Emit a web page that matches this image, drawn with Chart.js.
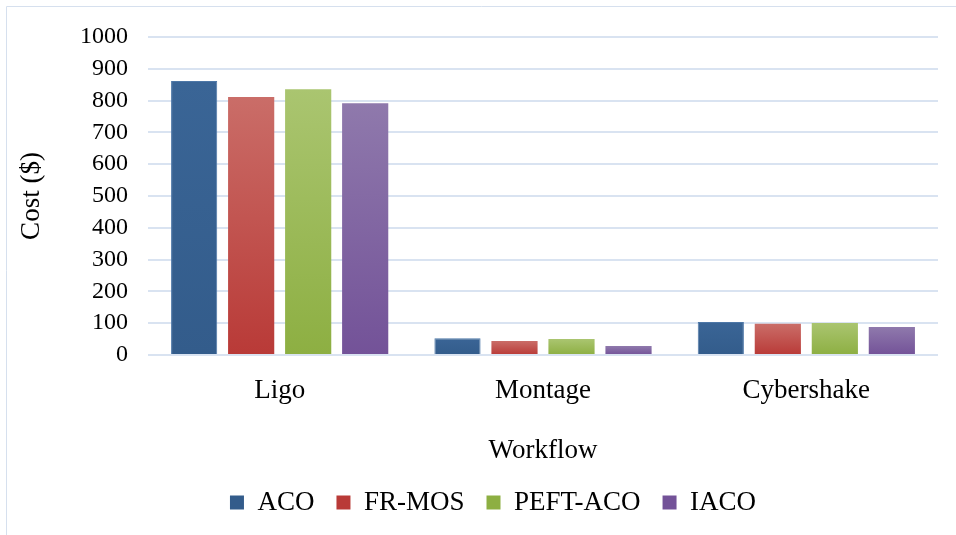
<!DOCTYPE html>
<html>
<head>
<meta charset="utf-8">
<style>
  html, body { margin: 0; padding: 0; background: #ffffff; }
  #wrap { position: relative; width: 956px; height: 535px; }
  canvas { display: block; }
</style>
<script src="https://cdn.jsdelivr.net/npm/chart.js@4"></script>
</head>
<body>
<div id="wrap"><canvas id="chart" width="956" height="535"></canvas></div>
<script>
// Workflow cost per scheduling algorithm
const workflows = ['Ligo', 'Montage', 'Cybershake'];
const seriesNames = ['ACO', 'FR-MOS', 'PEFT-ACO', 'IACO'];
const acoCost    = [862, 53, 104];
const frmosCost  = [811, 44, 98];
const peftCost   = [836, 50, 101];
const iacoCost   = [792, 28, 88];
const yTicks = ['0', '100', '200', '300', '400', '500', '600', '700', '800', '900', '1000'];

// top / bottom shades for each series' vertical gradient
const shades = [
  { top: '#3a6596', bottom: '#335c8b', border: '#4d77a7' },
  { top: '#ca6d68', bottom: '#b93a37', border: null },
  { top: '#aac570', bottom: '#8daf42', border: null },
  { top: '#8f79ac', bottom: '#735298', border: null }
];

const FONT = '"Liberation Serif", "Times New Roman", serif';

function barGradient(shade) {
  return function (ctx) {
    const chart = ctx.chart;
    const y = chart.scales.y;
    if (!y || ctx.type !== 'data') return shade.bottom;
    const top = y.getPixelForValue(ctx.raw);
    const base = y.getPixelForValue(0);
    if (!isFinite(top) || !isFinite(base) || base - top < 1) return shade.bottom;
    const g = chart.ctx.createLinearGradient(0, top, 0, base);
    g.addColorStop(0, shade.top);
    g.addColorStop(1, shade.bottom);
    return g;
  };
}

const valueSets = [acoCost, frmosCost, peftCost, iacoCost];
const datasets = seriesNames.map((name, i) => ({
  label: name,
  data: valueSets[i],
  backgroundColor: barGradient(shades[i]),
  borderColor: shades[i].border || 'rgba(0,0,0,0)',
  borderWidth: shades[i].border ? 1 : 0,
  barPercentage: 0.81,
  categoryPercentage: 0.866
}));

// thin frame along the top and left edges
const framePlugin = {
  id: 'frame',
  afterDraw(chart) {
    const c = chart.ctx;
    c.save();
    c.strokeStyle = '#d6e0ee';
    c.lineWidth = 1;
    c.beginPath();
    c.moveTo(6.5, chart.height);
    c.lineTo(6.5, 6.5);
    c.lineTo(chart.width, 6.5);
    c.stroke();
    c.restore();
  }
};

// centre the legend row under the whole figure rather than the padded box
const legendShift = {
  id: 'legendShift',
  afterLayout(chart) {
    const l = chart.legend;
    if (!l) return;
    l.left += 16;
    l.right += 16;
  }
};

const legendColors = shades.map(s => s.bottom);

new Chart(document.getElementById('chart'), {
  type: 'bar',
  data: { labels: workflows, datasets },
  plugins: [framePlugin, legendShift],
  options: {
    responsive: false,
    animation: false,
    devicePixelRatio: 1,
    layout: { padding: { left: 16, right: 18, top: 37, bottom: 9 } },
    plugins: {
      tooltip: { enabled: false },
      legend: {
        position: 'bottom',
        labels: {
          font: { family: FONT, size: 27 },
          color: '#000000',
          boxWidth: 14,
          boxHeight: 14,
          padding: 22,
          generateLabels(chart) {
            return chart.data.datasets.map((ds, i) => ({
              text: ds.label,
              fillStyle: legendColors[i],
              strokeStyle: legendColors[i],
              lineWidth: 0,
              fontColor: '#000000',
              datasetIndex: i,
              hidden: false
            }));
          }
        }
      }
    },
    scales: {
      x: {
        grid: { display: false, drawTicks: false },
        border: { display: false },
        ticks: { font: { family: FONT, size: 27 }, color: '#000000', padding: 20 },
        title: {
          display: true,
          text: 'Workflow',
          font: { family: FONT, size: 27 },
          color: '#000000',
          padding: { top: 0, bottom: 0 }
        },
        afterFit(scale) { scale.height = 112; }
      },
      y: {
        min: 0,
        max: 1000,
        grid: { color: '#d9e3f1', lineWidth: 2, drawTicks: false },
        border: { display: false },
        ticks: {
          stepSize: 100,
          autoSkip: false,
          font: { family: FONT, size: 24 },
          color: '#000000',
          padding: 20,
          callback: (v, i) => yTicks[i]
        },
        title: {
          display: true,
          text: 'Cost ($)',
          font: { family: FONT, size: 27 },
          color: '#000000',
          padding: { top: 0, bottom: 0 }
        },
        afterFit(scale) { scale.width = 132; }
      }
    }
  }
});
</script>
</body>
</html>
